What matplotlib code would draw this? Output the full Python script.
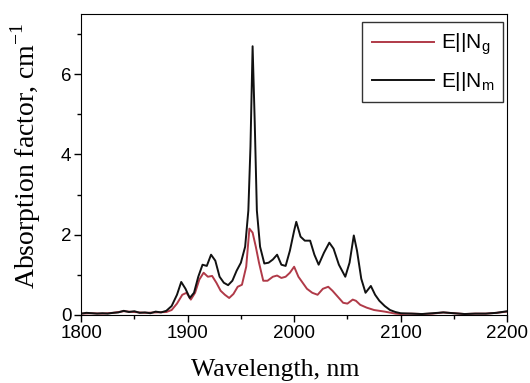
import matplotlib
matplotlib.use("Agg")
import matplotlib.pyplot as plt

# E||Nm (black) spectrum
wl_m = [1800, 1805, 1810, 1815, 1820, 1825, 1830, 1835, 1840, 1845, 1850, 1855,
        1860, 1865, 1870, 1875, 1880, 1885, 1890, 1894, 1898, 1902, 1906, 1910,
        1914, 1918, 1922, 1926, 1930, 1934, 1938, 1942, 1946, 1950, 1954, 1957,
        1959, 1961, 1963, 1965, 1968, 1972, 1976, 1980, 1984, 1988, 1992, 1996,
        2000, 2002, 2006, 2010, 2015, 2019, 2023, 2028, 2033, 2037, 2042, 2048,
        2052, 2056, 2059, 2063, 2067, 2072, 2076, 2080, 2085, 2090, 2095, 2100,
        2110, 2120, 2130, 2140, 2150, 2160, 2170, 2180, 2190, 2200]
abs_m = [0.03, 0.05, 0.04, 0.03, 0.04, 0.03, 0.05, 0.06, 0.10, 0.07, 0.09, 0.05,
         0.06, 0.04, 0.08, 0.06, 0.10, 0.22, 0.50, 0.82, 0.65, 0.42, 0.55, 0.95,
         1.25, 1.22, 1.50, 1.35, 0.95, 0.80, 0.74, 0.85, 1.10, 1.30, 1.70, 2.60,
         4.20, 6.70, 4.80, 2.60, 1.70, 1.28, 1.30, 1.38, 1.50, 1.25, 1.22, 1.60,
         2.10, 2.32, 1.95, 1.85, 1.85, 1.50, 1.25, 1.55, 1.80, 1.65, 1.25, 0.95,
         1.30, 1.98, 1.60, 0.90, 0.55, 0.72, 0.50, 0.35, 0.22, 0.12, 0.07, 0.04,
         0.03, 0.02, 0.04, 0.06, 0.04, 0.02, 0.03, 0.03, 0.05, 0.09]

# E||Ng (red) spectrum
wl_g = [1800, 1810, 1820, 1830, 1840, 1845, 1850, 1860, 1870, 1880, 1885, 1890,
        1895, 1899, 1903, 1907, 1911, 1915, 1919, 1923, 1927, 1931, 1935, 1939,
        1943, 1947, 1951, 1955, 1958, 1961, 1964, 1967, 1971, 1975, 1980, 1984,
        1988, 1992, 1996, 2000, 2004, 2008, 2012, 2017, 2022, 2027, 2032, 2036,
        2041, 2046, 2050, 2055, 2058, 2062, 2068, 2075, 2085, 2095, 2100, 2110,
        2120, 2130, 2140, 2150, 2160, 2170, 2180, 2190, 2200]
abs_g = [0.03, 0.04, 0.03, 0.05, 0.09, 0.08, 0.07, 0.05, 0.06, 0.07, 0.12, 0.28,
         0.50, 0.55, 0.38, 0.55, 0.88, 1.05, 0.95, 0.97, 0.80, 0.60, 0.50, 0.42,
         0.52, 0.70, 0.75, 1.20, 2.15, 2.05, 1.70, 1.30, 0.85, 0.85, 0.95, 0.98,
         0.92, 0.95, 1.05, 1.20, 0.95, 0.80, 0.65, 0.55, 0.50, 0.65, 0.70, 0.60,
         0.45, 0.30, 0.28, 0.38, 0.35, 0.25, 0.18, 0.12, 0.08, 0.03, 0.02, 0.03,
         0.02, 0.03, 0.06, 0.04, 0.02, 0.03, 0.03, 0.05, 0.08]

x_ticks = [1800, 1900, 2000, 2100, 2200]
y_ticks = [0, 2, 4, 6]

fig = plt.figure(figsize=(5.3, 3.83), dpi=100)
ax = fig.add_axes([0.153, 0.178, 0.804, 0.785])

ax.plot(wl_g, abs_g, color='#b03a48', lw=1.4, label=r'E||N$_\mathregular{g}$')
ax.plot(wl_m, abs_m, color='#111111', lw=1.4, label=r'E||N$_\mathregular{m}$')

ax.set_xlim(1800, 2200)
ax.set_ylim(0, 7.5)
ax.set_xticks(x_ticks)
ax.set_yticks(y_ticks)
ax.set_xticks(range(1850, 2200, 100), minor=True)
ax.set_yticks([1, 3, 5, 7], minor=True)
ax.tick_params(which='both', direction='out', width=1)
ax.tick_params(which='major', length=5, labelsize=13.5, pad=2)
ax.tick_params(which='minor', length=3)
for lab in ax.get_xticklabels() + ax.get_yticklabels():
    lab.set_family('Liberation Sans')

ax.set_xlabel('Wavelength, nm', family='Liberation Serif', fontsize=18.5)
ax.set_ylabel(r'Absorption factor, cm$^\mathregular{-1}$', family='Liberation Serif',
              fontsize=20)
ax.xaxis.set_label_coords(0.455, -0.148)
ax.yaxis.set_label_coords(-0.09, 0.53)

leg = ax.legend(loc='upper right', bbox_to_anchor=(0.9906, 0.973), borderaxespad=0,
                prop={'family': 'Liberation Sans', 'size': 15},
                frameon=True, fancybox=False, edgecolor='black', handlelength=3.0,
                handletextpad=0.3, labelspacing=0.6, borderpad=0.45)
leg.get_frame().set_linewidth(1)

fig.savefig('out.png', dpi=100)
